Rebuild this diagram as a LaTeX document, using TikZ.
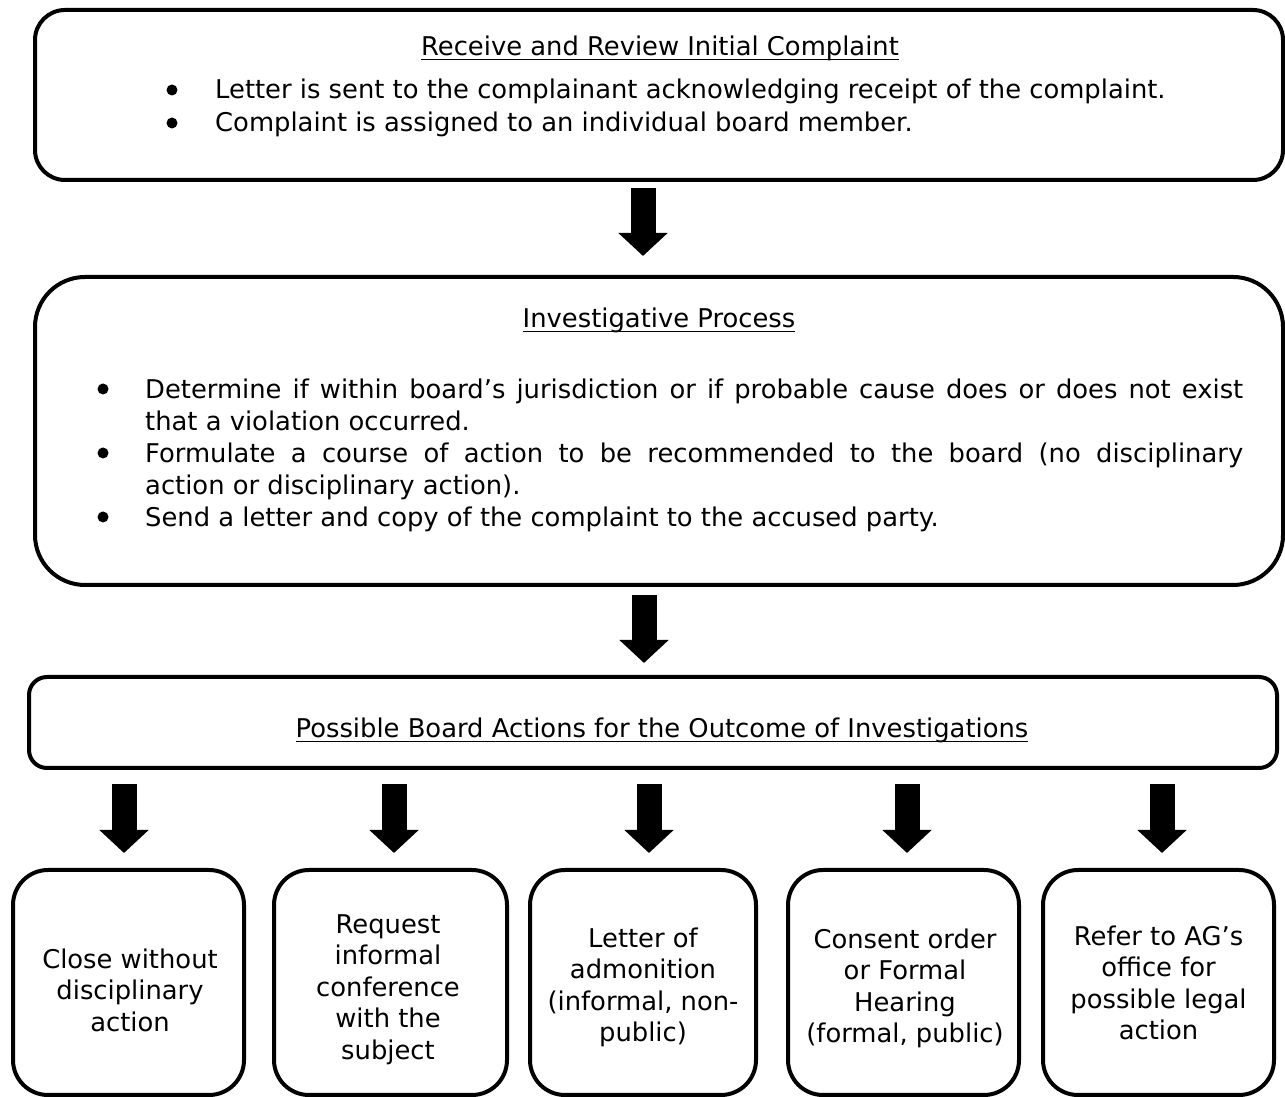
\documentclass[tikz,border=0pt]{standalone}
\usepackage{fontspec}
\setmainfont{DejaVu Sans}
\usetikzlibrary{arrows.meta,calc}
\setlength\parindent{0pt}
\setlength\parskip{0pt}
\newcommand\myul[1]{\leavevmode\setbox0\hbox{#1}\rlap{\rule[-4.5pt]{\wd0}{1.6pt}}\box0}
\begin{document}
\begin{tikzpicture}[x=1pt,y=1pt,
  box/.style={draw=black, line width=4pt, fill=white, inner sep=0pt},
  txt/.style={inner sep=0pt, font=\fontsize{25.8}{32}\selectfont},
  btxt/.style={inner sep=0pt, align=center, font=\fontsize{25.8}{31.5}\selectfont, anchor=north},
  bigarrow/.style={line width=25pt, -{Triangle[width=48pt,length=23pt]}},
  bull/.style={fill=black}
]
\useasboundingbox (0,0) rectangle (1285,1097);
% main boxes
\node[box, rounded corners=30pt, minimum width=1248pt, minimum height=170pt] (b1) at (659,1002) {};
\node[box, rounded corners=50pt, minimum width=1248pt, minimum height=308pt] (b2) at (659,666) {};
\node[box, rounded corners=18pt, minimum width=1248pt, minimum height=91pt] (b3) at (653,374.5) {};
% bottom boxes
\node[box, rounded corners=35pt, minimum width=231pt, minimum height=225pt] (c1) at (128.5,114.5) {};
\node[box, rounded corners=35pt, minimum width=233pt, minimum height=225pt] (c2) at (390.5,114.5) {};
\node[box, rounded corners=35pt, minimum width=226pt, minimum height=225pt] (c3) at (643,114.5) {};
\node[box, rounded corners=35pt, minimum width=231pt, minimum height=225pt] (c4) at (903.5,114.5) {};
\node[box, rounded corners=35pt, minimum width=231pt, minimum height=225pt] (c5) at (1158.5,114.5) {};
% box 1 text
\node[txt, anchor=base] (t1) at (660,1041) {\myul{Receive and Review Initial Complaint}};
\fill[bull] (172,1007) circle (5.5pt);
\fill[bull] (172,974) circle (5.5pt);
\node[txt, anchor=base west] (l1) at (215,998) {Letter is sent to the complainant acknowledging receipt of the complaint.};
\node[txt, anchor=base west] (l2) at (215,965) {Complaint is assigned to an individual board member.};
% box 2 text
\node[txt, anchor=base] (t2) at (659,769) {\myul{Investigative Process}};
\fill[bull] (103,708) circle (5.5pt);
\fill[bull] (103,644) circle (5.5pt);
\fill[bull] (103,580) circle (5.5pt);
\node[txt, anchor=north west, text width=1098pt, align=justify] (p2) at (145,721.4) {\strut Determine if within board’s jurisdiction or if probable cause does or does not exist\linebreak that a violation occurred.\par
Formulate a course of action to be recommended to the board (no disciplinary\linebreak action or disciplinary action).\par
Send a letter and copy of the complaint to the accused party.};
% box 3 text
\node[txt, anchor=base] (t3) at (662,359) {\myul{Possible Board Actions for the Outcome of Investigations}};
% bottom texts
\node[btxt] (d1) at (130,151.05) {\strut Close without\\\strut disciplinary\\\strut action};
\node[btxt] (d2) at (388,186.05) {\strut Request\\\strut informal\\\strut conference\\\strut with the\\\strut subject};
\node[btxt] (d3) at (643,172.05) {\strut Letter of\\\strut admonition\\\strut (informal, non-\\\strut public)};
\node[btxt] (d4) at (905,171.05) {\strut Consent order\\\strut or Formal\\\strut Hearing\\\strut (formal, public)};
\node[btxt] (d5) at (1158.5,174.05) {\strut Refer to AG’s\\\strut office for\\\strut possible legal\\\strut action};
% arrows
\draw[bigarrow] ($(b1.south)+(-16,-6)$) -- ($(b2.north)+(-16,19)$);
\draw[bigarrow] ($(b2.south)+(-15,-8)$) -- ($(b3.north)+(-9,12)$);
\draw[bigarrow] ($(b3.south -| c1.north)+(-4.5,-14)$) -- ($(c1.north)+(-4.5,15)$);
\draw[bigarrow] ($(b3.south -| c2.north)+(3.5,-14)$) -- ($(c2.north)+(3.5,15)$);
\draw[bigarrow] ($(b3.south -| c3.north)+(6,-14)$) -- ($(c3.north)+(6,15)$);
\draw[bigarrow] ($(b3.south -| c4.north)+(3.5,-14)$) -- ($(c4.north)+(3.5,15)$);
\draw[bigarrow] ($(b3.south -| c5.north)+(3.5,-14)$) -- ($(c5.north)+(3.5,15)$);
\end{tikzpicture}
\end{document}
